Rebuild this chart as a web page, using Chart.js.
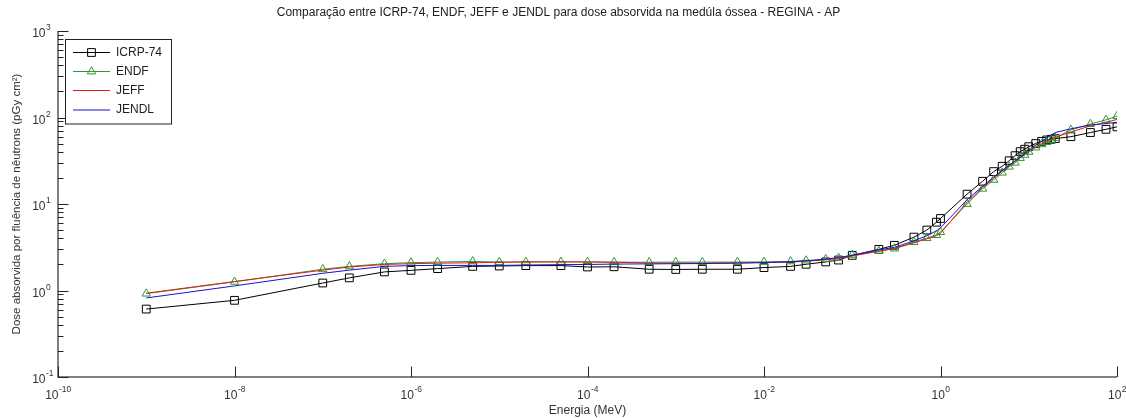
<!DOCTYPE html>
<html><head><meta charset="utf-8">
<script src="https://cdn.jsdelivr.net/npm/chart.js@4.4.1/dist/chart.umd.min.js"></script>
<style>html,body{margin:0;padding:0;background:#fff;overflow:hidden}</style>
</head><body>
<canvas id="c" width="1126" height="418" style="display:block;width:1126px;height:418px"></canvas>
<script>
const chartTitle = 'Comparação entre ICRP-74, ENDF, JEFF e JENDL para dose absorvida na medúla óssea - REGINA - AP';
const xTitle = 'Energia (MeV)';
const yTitle = 'Dose absorvida por fluência de nêutrons (pGy cm²)';
const seriesNames = ['ICRP-74', 'ENDF', 'JEFF', 'JENDL'];

const energies = [1e-9, 1e-8, 1e-7, 2e-7, 5e-7, 1e-6, 2e-6, 5e-6, 1e-5, 2e-5, 5e-5, 1e-4, 2e-4, 5e-4,
  1e-3, 2e-3, 5e-3, 1e-2, 2e-2, 3e-2, 5e-2, 7e-2, 0.1, 0.2, 0.3, 0.5, 0.7, 0.9, 1,
  2, 3, 4, 5, 6, 7, 8, 9, 10, 12, 14, 16, 18, 20, 30, 50, 75, 100];

const icrp74 = [0.61, 0.77, 1.22, 1.40, 1.64, 1.71, 1.79, 1.90, 1.92, 1.94, 1.94, 1.87, 1.88, 1.76,
  1.75, 1.76, 1.76, 1.84, 1.90, 2.01, 2.14, 2.25, 2.55, 2.99, 3.33, 4.14, 5.0, 6.16, 6.8,
  13.0, 18.3, 23.7, 27.3, 31.6, 36.2, 40.3, 43, 46, 50, 53, 55, 56, 57, 60, 67, 73, 78];

const endf = [0.92, 1.26, 1.76, 1.90, 2.04, 2.10, 2.13, 2.17, 2.13, 2.14, 2.14, 2.14, 2.13, 2.12,
  2.13, 2.13, 2.13, 2.14, 2.17, 2.22, 2.30, 2.38, 2.58, 2.86, 3.05, 3.63, 4.03, 4.37, 4.73,
  10.0, 15.0, 19.0, 23.0, 27.0, 30.0, 34.0, 37.0, 40.0, 45.0, 49.0, 52.0, 55.0, 58.0, 72.0, 84.0, 94.0, 104.0];

const jeff = [0.93, 1.27, 1.72, 1.87, 2.00, 2.04, 2.07, 2.09, 2.12, 2.14, 2.15, 2.14, 2.12, 2.08,
  2.07, 2.07, 2.09, 2.11, 2.13, 2.18, 2.26, 2.34, 2.50, 2.85, 3.05, 3.55, 3.95, 4.30, 4.60,
  10.5, 15.5, 19.8, 24.0, 27.5, 31.0, 34.5, 38.0, 41.0, 46.0, 50.0, 53.0, 56.0, 59.0, 68.0, 80.0, 88.0, 95.0];

const jendl = [0.82, 1.13, 1.58, 1.72, 1.90, 1.94, 1.95, 1.95, 1.95, 1.97, 1.99, 2.00, 2.02, 2.03,
  2.04, 2.05, 2.07, 2.10, 2.15, 2.20, 2.30, 2.40, 2.55, 2.95, 3.15, 3.75, 4.30, 4.90, 5.30,
  11.2, 16.0, 20.5, 24.5, 28.0, 31.5, 35.0, 38.5, 42.0, 48.0, 53.0, 58.0, 63.0, 67.0, 74.0, 82.0, 85.0, 88.0];

const xTickValues = [1e-10, 1e-8, 1e-6, 1e-4, 1e-2, 1, 100];
const yTickValues = [0.1, 1, 10, 100, 1000];
const yMinorMultipliers = [2, 3, 4, 5, 6, 7, 8, 9];

const FONT = 'Liberation Sans, Arial, Helvetica, sans-serif';
function expOf(v) { return String(Math.round(Math.log10(v))); }
function pts(arr) { return energies.map((e, i) => ({x: e, y: arr[i]})); }

const yAllTicks = [];
yTickValues.forEach((d, i) => {
  yAllTicks.push({value: d, major: true});
  if (i < yTickValues.length - 1) yMinorMultipliers.forEach(m => yAllTicks.push({value: m * d, major: false}));
});

// draws "10" with a raised exponent
function drawPow(ctx, baseRight, midY, exp, align) {
  ctx.font = '12px ' + FONT;
  const wb = ctx.measureText('10').width;
  ctx.font = '8.5px ' + FONT;
  const we = ctx.measureText(exp).width;
  let x0;
  if (align === 'center') x0 = baseRight - (wb + we) / 2;
  else x0 = baseRight - wb;
  ctx.textAlign = 'left';
  ctx.textBaseline = 'alphabetic';
  ctx.font = '12px ' + FONT;
  ctx.fillText('10', x0, midY + 4.5);
  ctx.font = '8.5px ' + FONT;
  ctx.fillText(exp, x0 + wb + 0.5, midY - 2.5);
}

const axesPlugin = {
  id: 'matlabAxes',
  afterDraw(chart) {
    const ctx = chart.ctx, a = chart.chartArea;
    const xs = chart.scales.x, ys = chart.scales.y;
    ctx.save();
    ctx.strokeStyle = '#555';
    ctx.lineWidth = 1.5;
    ctx.beginPath();
    ctx.moveTo(a.left, a.top); ctx.lineTo(a.left, a.bottom); ctx.lineTo(a.right, a.bottom);
    ctx.stroke();
    ctx.strokeStyle = '#222';
    ctx.lineWidth = 1;
    ctx.beginPath();
    xTickValues.forEach(v => {
      const px = Math.round(xs.getPixelForValue(v)) + 0.5;
      ctx.moveTo(px, a.bottom); ctx.lineTo(px, a.bottom - 10.5);
    });
    yAllTicks.forEach(t => {
      const py = Math.round(ys.getPixelForValue(t.value)) + 0.5;
      ctx.moveTo(a.left, py); ctx.lineTo(a.left + (t.major ? 10.5 : 5.5), py);
    });
    ctx.stroke();
    ctx.fillStyle = '#333';
    xTickValues.forEach(v => drawPow(ctx, xs.getPixelForValue(v), a.bottom + 17, expOf(v), 'center'));
    yTickValues.forEach(v => drawPow(ctx, 45.5, ys.getPixelForValue(v) + 1.5, expOf(v), 'right'));
    ctx.restore();
  }
};

const legendPlugin = {
  id: 'matlabLegend',
  afterDraw(chart) {
    const ctx = chart.ctx;
    const bx = 65.5, by = 39.5, bw = 106, bh = 84.5;
    ctx.save();
    ctx.fillStyle = '#fff';
    ctx.fillRect(bx, by, bw, bh);
    ctx.strokeStyle = '#222';
    ctx.lineWidth = 1;
    ctx.strokeRect(bx, by, bw, bh);
    const rows = [52.5, 71.5, 90.5, 110];
    chart.data.datasets.forEach((ds, i) => {
      const y = rows[i];
      ctx.strokeStyle = ds.borderColor;
      ctx.lineWidth = 1;
      ctx.beginPath(); ctx.moveTo(73, y); ctx.lineTo(110, y); ctx.stroke();
      if (ds.pointRadius > 0) {
        ctx.strokeStyle = ds.pointBorderColor;
        ctx.fillStyle = 'rgba(0,0,0,0)';
        ctx.lineWidth = 1;
        Chart.helpers.drawPoint(ctx, {pointStyle: ds.pointStyle, radius: ds.pointRadius, borderWidth: 1, rotation: 0}, 91.5, y);
      }
      ctx.fillStyle = '#222';
      ctx.font = '12px ' + FONT;
      ctx.textAlign = 'left';
      ctx.textBaseline = 'middle';
      ctx.fillText(ds.label, 116, y);
    });
    ctx.restore();
  }
};

const tickFont = {family: FONT, size: 12};

new Chart(document.getElementById('c'), {
  type: 'line',
  data: {
    datasets: [
      {label: seriesNames[0], data: pts(icrp74), borderColor: '#000', borderWidth: 1, pointStyle: 'rect',
       pointRadius: 5.5, pointBorderColor: '#000', pointBackgroundColor: 'rgba(0,0,0,0)', pointBorderWidth: 1, order: 3},
      {label: seriesNames[1], data: pts(endf), borderColor: '#2e9a2e', borderWidth: 1, pointStyle: 'triangle',
       pointRadius: 4.8, pointBorderColor: '#2e9a2e', pointBackgroundColor: 'rgba(0,0,0,0)', pointBorderWidth: 1, order: 2},
      {label: seriesNames[2], data: pts(jeff), borderColor: '#e41a1a', borderWidth: 1, pointRadius: 0, order: 1},
      {label: seriesNames[3], data: pts(jendl), borderColor: '#1515cc', borderWidth: 1, pointRadius: 0, order: 0}
    ]
  },
  options: {
    responsive: false,
    animation: false,
    events: [],
    layout: {padding: {left: 0, right: 9, top: 0, bottom: 0}},
    plugins: {
      legend: {display: false},
      tooltip: {enabled: false},
      title: {display: true, text: chartTitle, color: '#222', font: {family: FONT, size: 12, weight: 'normal'},
              padding: {top: 5, bottom: 11.6}}
    },
    elements: {line: {tension: 0}},
    scales: {
      x: {
        type: 'logarithmic', min: 1e-10, max: 100,
        afterBuildTicks: s => { s.ticks = xTickValues.map(v => ({value: v})); },
        afterFit: s => { s.height = 41; s.paddingLeft = 0; s.paddingRight = 0; },
        grid: {display: false, drawTicks: false},
        border: {display: false},
        ticks: {display: false, autoSkip: false, maxRotation: 0},
        title: {display: true, text: xTitle, color: '#333', font: tickFont, padding: {top: 0, bottom: 0}}
      },
      y: {
        type: 'logarithmic', min: 0.1, max: 1000,
        afterBuildTicks: s => { s.ticks = yAllTicks.map(t => ({value: t.value})); },
        afterFit: s => { s.width = 58; s.paddingTop = 0; s.paddingBottom = 0; },
        grid: {display: false, drawTicks: false},
        border: {display: false},
        ticks: {display: false, autoSkip: false},
        title: {display: true, text: yTitle, color: '#333', font: {family: FONT, size: 11.5}, padding: {top: 10, bottom: 0}}
      }
    }
  },
  plugins: [axesPlugin, legendPlugin]
});
</script>
</body></html>
